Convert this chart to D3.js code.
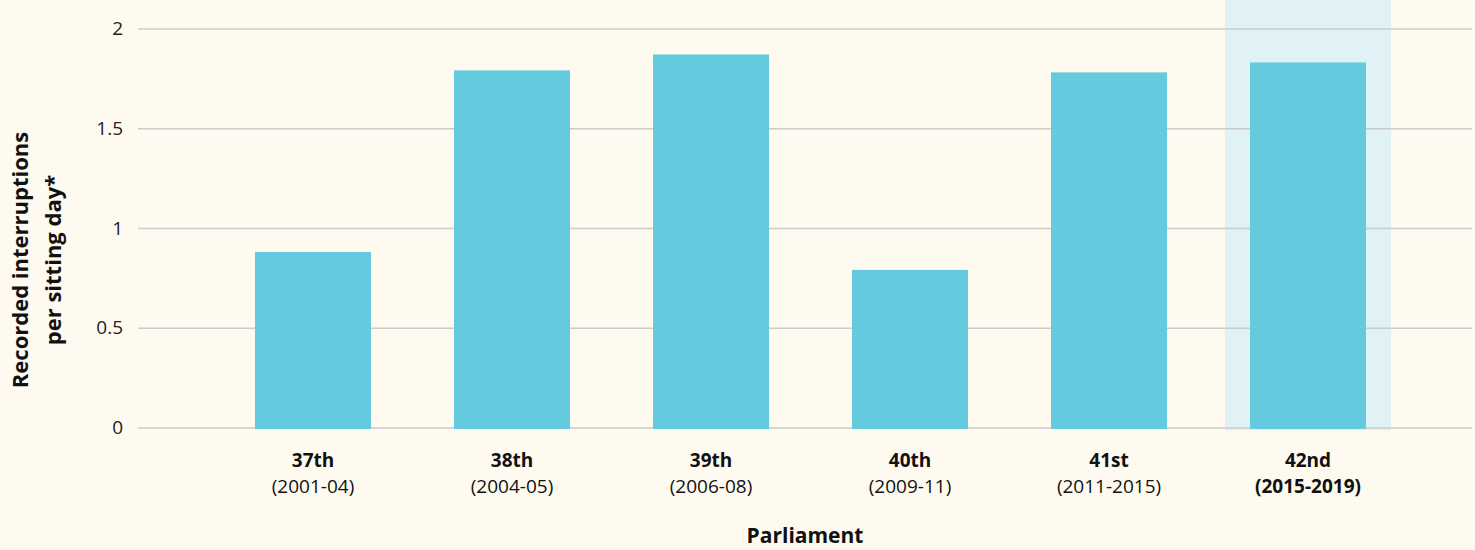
<!DOCTYPE html>
<html>
<head>
<meta charset="utf-8">
<script src="https://cdn.jsdelivr.net/npm/d3@7"></script>
<style>
  body { margin: 0; background: #fefaf0; }
  svg { display: block; font-family: "Open Sans", sans-serif; }
</style>
</head>
<body>
<svg id="chart" width="1475" height="550"></svg>
<script>
const parliaments = ['37th', '38th', '39th', '40th', '41st', '42nd'];
const periods = ['(2001-04)', '(2004-05)', '(2006-08)', '(2009-11)', '(2011-2015)', '(2015-2019)'];
const interruptions = [0.88, 1.79, 1.87, 0.79, 1.78, 1.83];
const yTicks = [0, 0.5, 1, 1.5, 2];
const highlighted = '42nd';

const barColor = '#64cade';
const highlightColor = '#e0f2f5';
const gridColor = '#cbcbcb';

const svg = d3.select('#chart');
const gridLeft = 138, gridRight = 1472;

const y = d3.scaleLinear().domain([0, 2]).range([427.5, 28.5]);
const x = d3.scaleBand()
  .domain(parliaments)
  .range([213.5, 1407.5])
  .paddingInner(0.417)
  .paddingOuter(0.2085);

// highlight band behind the last parliament
const hx = x(highlighted) + x.bandwidth() / 2;
svg.append('rect')
  .attr('x', hx - 83)
  .attr('y', 0)
  .attr('width', 166)
  .attr('height', y(0) + 2.5)
  .attr('fill', highlightColor);

// grid lines + tick labels
const yAxis = svg.append('g')
  .attr('transform', `translate(${gridLeft},0)`)
  .call(d3.axisLeft(y).tickValues(yTicks).tickSize(-(gridRight - gridLeft)).tickPadding(15).tickFormat(d3.format('')));
yAxis.select('.domain').remove();
yAxis.selectAll('.tick line').attr('stroke', gridColor).attr('stroke-width', 1.5);
yAxis.selectAll('.tick text')
  .attr('fill', '#222')
  .style('font-size', '19px')
  .style('font-family', '"Open Sans", sans-serif');

// bars
svg.append('g').selectAll('rect')
  .data(parliaments)
  .join('rect')
  .attr('x', d => x(d))
  .attr('width', x.bandwidth())
  .attr('y', (d, i) => y(interruptions[i]))
  .attr('height', (d, i) => y(0) - y(interruptions[i]) + 1.5)
  .attr('fill', barColor);

// category labels
const labels = svg.append('g').selectAll('text')
  .data(parliaments)
  .join('text')
  .attr('x', d => x(d) + x.bandwidth() / 2)
  .attr('text-anchor', 'middle')
  .attr('fill', '#111')
  .style('font-size', '19px');
labels.append('tspan')
  .attr('y', 467)
  .attr('x', d => x(d) + x.bandwidth() / 2)
  .attr('font-weight', 'bold')
  .text(d => d);
labels.append('tspan')
  .attr('y', 493)
  .attr('x', d => x(d) + x.bandwidth() / 2)
  .attr('font-weight', d => d === highlighted ? 'bold' : 'normal')
  .text((d, i) => periods[i]);

// axis titles
svg.append('text')
  .attr('x', (gridLeft + gridRight) / 2)
  .attr('y', 543)
  .attr('text-anchor', 'middle')
  .attr('font-weight', 'bold')
  .attr('fill', '#111')
  .style('font-size', '21px')
  .text('Parliament');

const yTitle = svg.append('text')
  .attr('transform', 'translate(0,260) rotate(-90)')
  .attr('text-anchor', 'middle')
  .attr('font-weight', 'bold')
  .attr('fill', '#111')
  .style('font-size', '22px');
yTitle.append('tspan').attr('x', 0).attr('y', 28).text('Recorded interruptions');
yTitle.append('tspan').attr('x', 0).attr('y', 61).text('per sitting day*');
</script>
</body>
</html>
